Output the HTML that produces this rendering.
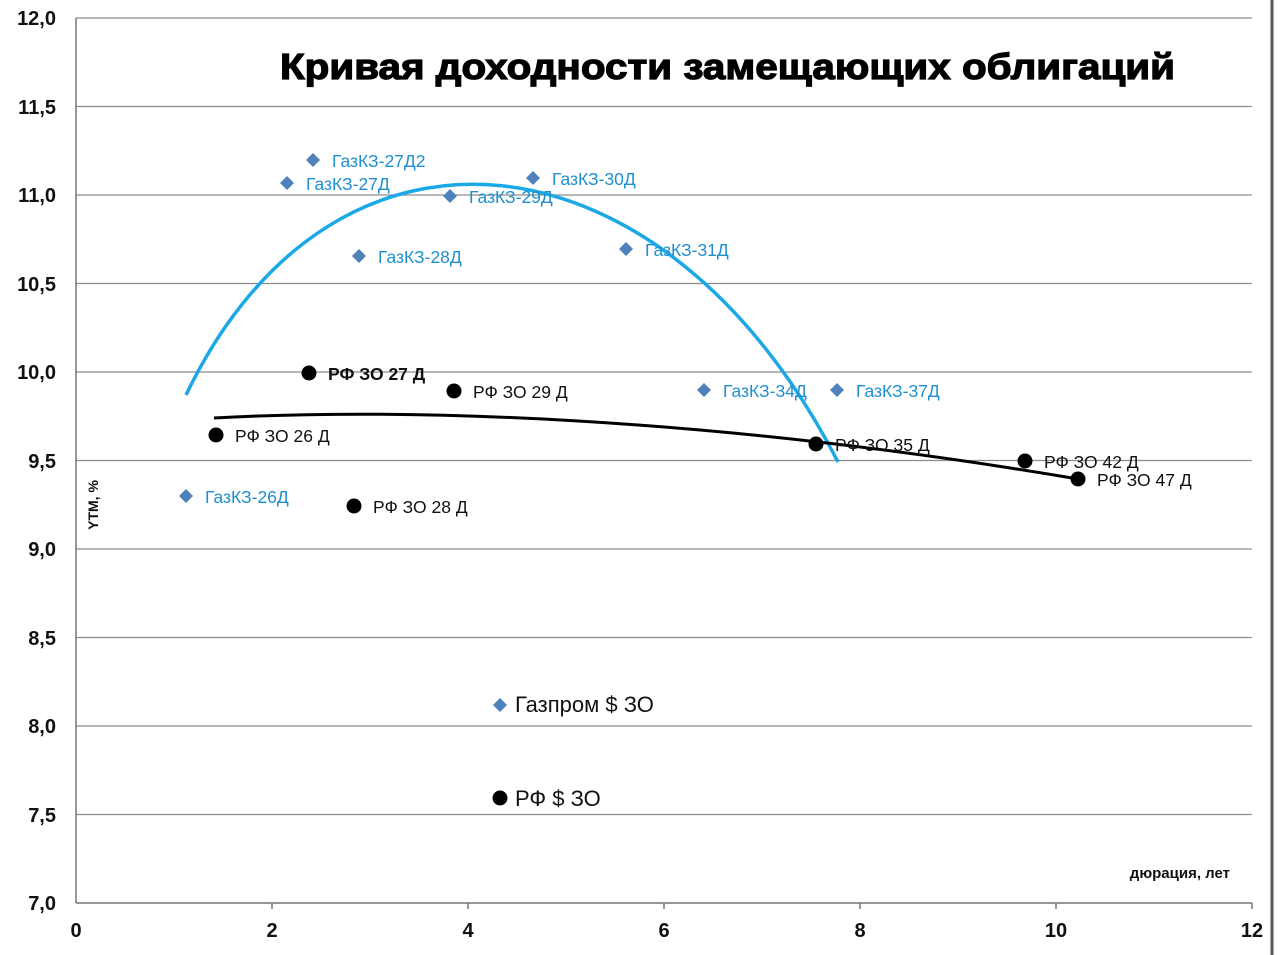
<!DOCTYPE html>
<html><head><meta charset="utf-8"><style>
html,body{margin:0;padding:0;background:#fff;}
svg{display:block;font-family:"Liberation Sans","DejaVu Sans",sans-serif;}
</style></head><body>
<svg width="1280" height="955" viewBox="0 0 1280 955" xmlns="http://www.w3.org/2000/svg">
<rect width="1280" height="955" fill="#fff"/>
<line x1="1272" y1="0" x2="1272" y2="955" stroke="#555" stroke-width="3"/>
<g stroke="#8c8c8c" stroke-width="1.3">
<line x1="76" y1="18" x2="1252" y2="18"/>
<line x1="76" y1="106.5" x2="1252" y2="106.5"/>
<line x1="76" y1="195" x2="1252" y2="195"/>
<line x1="76" y1="283.5" x2="1252" y2="283.5"/>
<line x1="76" y1="372" x2="1252" y2="372"/>
<line x1="76" y1="460.5" x2="1252" y2="460.5"/>
<line x1="76" y1="549" x2="1252" y2="549"/>
<line x1="76" y1="637.5" x2="1252" y2="637.5"/>
<line x1="76" y1="726" x2="1252" y2="726"/>
<line x1="76" y1="814.5" x2="1252" y2="814.5"/>
</g>
<g stroke="#777" stroke-width="1.5">
<line x1="76" y1="18" x2="76" y2="903"/>
<line x1="76" y1="903" x2="1252" y2="903"/>
<line x1="272" y1="903" x2="272" y2="909"/><line x1="468" y1="903" x2="468" y2="909"/>
<line x1="664" y1="903" x2="664" y2="909"/><line x1="860" y1="903" x2="860" y2="909"/>
<line x1="1056" y1="903" x2="1056" y2="909"/><line x1="1252" y1="903" x2="1252" y2="909"/>
</g>
<g font-size="20" font-weight="bold" fill="#111" text-anchor="end">
<text x="56" y="25">12,0</text><text x="56" y="114">11,5</text><text x="56" y="202">11,0</text>
<text x="56" y="291">10,5</text><text x="56" y="379">10,0</text><text x="56" y="468">9,5</text>
<text x="56" y="556">9,0</text><text x="56" y="645">8,5</text><text x="56" y="733">8,0</text>
<text x="56" y="822">7,5</text><text x="56" y="910">7,0</text>
</g>
<g font-size="20" font-weight="bold" fill="#111" text-anchor="middle">
<text x="76" y="937">0</text><text x="272" y="937">2</text><text x="468" y="937">4</text>
<text x="664" y="937">6</text><text x="860" y="937">8</text><text x="1056" y="937">10</text><text x="1252" y="937">12</text>
</g>
<text x="280" y="79" font-size="36" font-weight="bold" fill="#000" stroke="#000" stroke-width="1.2" textLength="895" lengthAdjust="spacingAndGlyphs">Кривая доходности замещающих облигаций</text>
<text x="1230" y="878" font-size="15" font-weight="bold" text-anchor="end" fill="#111">дюрация, лет</text>
<text transform="translate(98,505) rotate(-90)" font-size="14" font-weight="bold" text-anchor="middle" fill="#111">YTM, %</text>
<path d="M186,395 C335,85 665,125 838,462" fill="none" stroke="#1ba8e6" stroke-width="3.5"/>
<path d="M214,418 C400,408 700,415 1078,479" fill="none" stroke="#000" stroke-width="3"/>
<g fill="#4f81bd">
<path d="M186,489 l7,7 l-7,7 l-7,-7z"/><path d="M287,176 l7,7 l-7,7 l-7,-7z"/>
<path d="M313,153 l7,7 l-7,7 l-7,-7z"/><path d="M359,249 l7,7 l-7,7 l-7,-7z"/>
<path d="M450,189 l7,7 l-7,7 l-7,-7z"/><path d="M533,171 l7,7 l-7,7 l-7,-7z"/>
<path d="M626,242 l7,7 l-7,7 l-7,-7z"/><path d="M704,383 l7,7 l-7,7 l-7,-7z"/>
<path d="M837,383 l7,7 l-7,7 l-7,-7z"/><path d="M500,698 l7,7 l-7,7 l-7,-7z"/>
</g>
<g font-size="17.5" fill="#1f8fd0">
<text x="205" y="503">ГазКЗ-26Д</text><text x="306" y="190">ГазКЗ-27Д</text>
<text x="332" y="167">ГазКЗ-27Д2</text><text x="378" y="263">ГазКЗ-28Д</text>
<text x="469" y="203">ГазКЗ-29Д</text><text x="552" y="185">ГазКЗ-30Д</text>
<text x="645" y="256">ГазКЗ-31Д</text><text x="723" y="397">ГазКЗ-34Д</text>
<text x="856" y="397">ГазКЗ-37Д</text>
</g>
<g fill="#000">
<circle cx="216" cy="435" r="7.5"/><circle cx="309" cy="373" r="7.5"/>
<circle cx="354" cy="506" r="7.5"/><circle cx="454" cy="391" r="7.5"/>
<circle cx="816" cy="444" r="7.5"/><circle cx="1025" cy="461" r="7.5"/>
<circle cx="1078" cy="479" r="7.5"/><circle cx="500" cy="798" r="7.5"/>
</g>
<g font-size="17.5" fill="#111">
<text x="235" y="442">РФ ЗО 26 Д</text>
<text x="328" y="380" font-weight="bold">РФ ЗО 27 Д</text>
<text x="373" y="513">РФ ЗО 28 Д</text><text x="473" y="398">РФ ЗО 29 Д</text>
<text x="835" y="451">РФ ЗО 35 Д</text><text x="1044" y="468">РФ ЗО 42 Д</text>
<text x="1097" y="486">РФ ЗО 47 Д</text>
</g>
<text x="515" y="712" font-size="22" fill="#111">Газпром $ ЗО</text>
<text x="515" y="806" font-size="22" fill="#111">РФ $ ЗО</text>
</svg>
</body></html>
